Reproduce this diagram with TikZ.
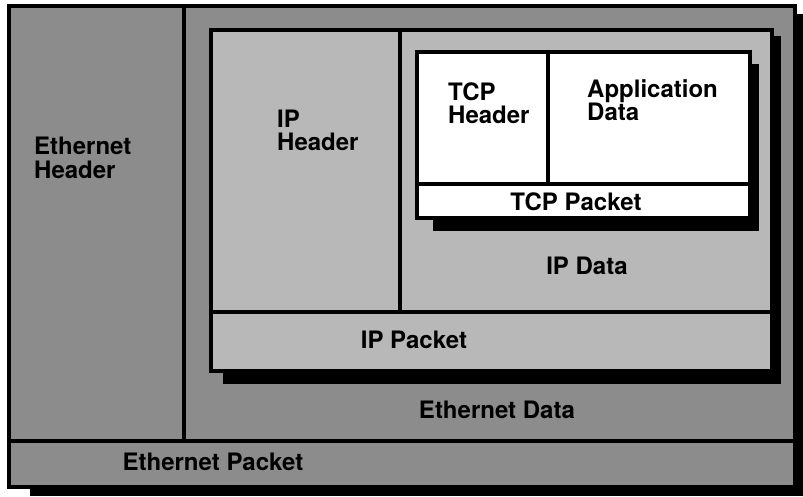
\documentclass[tikz,border=0pt]{standalone}
\usepackage{fontspec}
\setmainfont{TeX Gyre Heros}
\begin{document}
\begin{tikzpicture}[x=1pt,y=-1pt,
  ethfill/.style={fill=black!45},
  ipfill/.style={fill=black!28},
  frame/.style={draw=black,line width=3.5pt,line join=miter},
  divider/.style={draw=black,line width=3.5pt},
  shadowbox/.style={fill=black},
  lbl/.style={font=\fontsize{24}{23}\selectfont\bfseries,inner sep=0pt,text=black},
  lblw/.style={lbl,anchor=base west},
  lblc/.style={lbl,anchor=base}]
\useasboundingbox (0,0) rectangle (803,496);
\fill[white] (0,0) rectangle (803,496);

% Ethernet packet: shadow, frame, dividers
\fill[shadowbox] (30,14) rectangle (803,496);
\path[ethfill,frame] (9,6) rectangle (795,487);
\draw[divider] (9,441) -- (795,441);
\draw[divider] (184,6) -- (184,441);

% IP packet
\fill[shadowbox] (223,36) rectangle (781,384);
\path[ipfill,frame] (211,30) rectangle (772,371);
\draw[divider] (211,312) -- (772,312);
\draw[divider] (400,30) -- (400,312);

% TCP packet
\fill[shadowbox] (433,64) rectangle (759,231);
\path[fill=white,frame] (417,52) rectangle (750,218);
\draw[divider] (417,184) -- (750,184);
\draw[divider] (548,52) -- (548,184);

% Labels
\node[lblw] (ethhdr1) at (34,154) {Ethernet};
\node[lblw] (ethhdr2) at (34,178) {Header};
\node[lblw] (iphdr1) at (277,127) {IP};
\node[lblw] (iphdr2) at (277,150) {Header};
\node[lblw] (tcphdr1) at (448,100) {TCP};
\node[lblw] (tcphdr2) at (448,123) {Header};
\node[lblw] (app1) at (587,97) {Application};
\node[lblw] (app2) at (587,120) {Data};
\node[lblc] (tcppkt) at (576,210) {TCP Packet};
\node[lblc] (ipdata) at (587,274) {IP Data};
\node[lblc] (ippkt) at (414,348) {IP Packet};
\node[lblc] (ethdata) at (497,418) {Ethernet Data};
\node[lblc] (ethpkt) at (213,470) {Ethernet Packet};
\end{tikzpicture}
\end{document}
